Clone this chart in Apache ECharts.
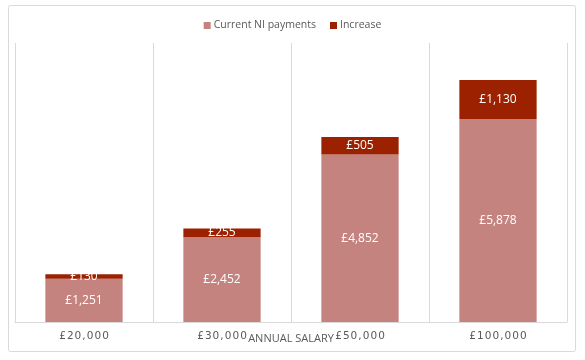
<!DOCTYPE html>
<html><head><meta charset="utf-8">
<script src="https://cdn.jsdelivr.net/npm/echarts@6/dist/echarts.min.js"></script>
<style>html,body{margin:0;padding:0;background:#fff}#c{width:585px;height:360px}</style>
</head><body><div id="c"></div>
<script>
const categories = ['£20,000', '£30,000', '£50,000', '£100,000'];
const currentNI = [1251, 2452, 4852, 5878];
const increase = [130, 255, 505, 1130];
const fmt = v => '£' + v.toLocaleString('en-GB');
const chart = echarts.init(document.getElementById('c'));
const lbl = {show: true, color: '#ffffff', fontFamily: 'Open Sans', fontSize: 12, formatter: p => fmt(p.value)};
chart.setOption({
  animation: false,
  graphic: [{type: 'rect', shape: {x: 8.5, y: 5.5, width: 567, height: 346, r: 2}, style: {fill: 'none', stroke: '#d9d9d9', lineWidth: 1}, z: -1}],
  legend: {top: 15, left: 'center', itemWidth: 7, itemHeight: 7, itemGap: 14, icon: 'rect',
    textStyle: {color: '#595959', fontFamily: 'Open Sans', fontSize: 10.5, padding: [0,0,0,-2]}},
  grid: {left: 15, right: 18, top: 43, bottom: 38},
  xAxis: {type: 'category', data: categories,
    axisLine: {lineStyle: {color: '#d9d9d9'}}, axisTick: {show: false},
    splitLine: {show: true, lineStyle: {color: '#d9d9d9'}},
    axisLabel: {color: '#595959', fontFamily: 'DejaVu Sans', fontSize: 10.5, margin: 9,
      formatter: v => v.split('').join('\u200A')},
    name: 'ANNUAL SALARY', nameLocation: 'middle', nameGap: 11, nameMoveOverlap: false,
    nameTextStyle: {color: '#595959', fontFamily: 'Open Sans', fontSize: 11, verticalAlign: 'top'}},
  yAxis: {type: 'value', min: 0, max: 8080, show: false, splitLine: {show: false}},
  series: [
    {name: 'Current NI payments', type: 'bar', stack: 'a', data: currentNI, barWidth: '56%',
      itemStyle: {color: '#c4837f'}, label: lbl},
    {name: 'Increase', type: 'bar', stack: 'a', data: increase, barWidth: '56%',
      itemStyle: {color: '#9c2100'}, label: lbl}
  ]
});
</script></body></html>
